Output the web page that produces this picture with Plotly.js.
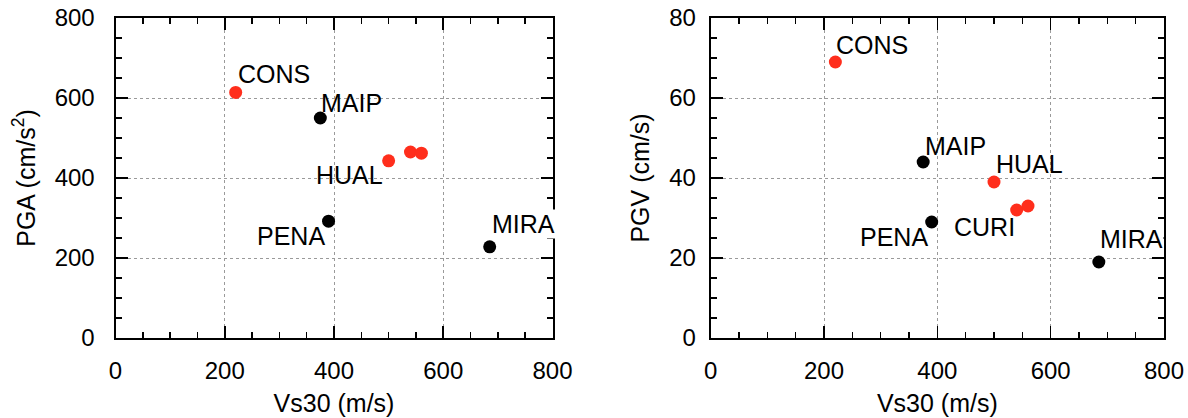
<!DOCTYPE html>
<html>
<head>
<meta charset="utf-8">
<script src="https://cdn.plot.ly/plotly-3.0.1.min.js"></script>
<style>html,body{margin:0;padding:0;background:#fff;}#chart{width:1188px;height:418px;}</style>
</head>
<body>
<div id="chart"></div>
<script>
// Stations
const redStations = ["CONS", "HUAL", "CURI", "CURI2"];
const redVs30 = [220, 500, 540, 560];
const redPGA = [614, 443, 465, 462];
const redPGV = [69, 39, 32, 33];

const blackStations = ["MAIP", "PENA", "MIRA"];
const blackVs30 = [375, 390, 685];
const blackPGA = [550, 292, 228];
const blackPGV = [44, 29, 19];

const xTicks = [0, 200, 400, 600, 800];
const pgaTicks = [0, 200, 400, 600, 800];
const pgvTicks = [0, 20, 40, 60, 80];

const RED = "#ff2e1c";
const FONT = "Liberation Sans, Arial, sans-serif";

const markerRed = {color: RED, size: 13};
const markerBlack = {color: "#000", size: 13};

const traces = [
  {x: redVs30, y: redPGA, xaxis: "x", yaxis: "y", mode: "markers", type: "scatter", marker: markerRed, hoverinfo: "skip"},
  {x: blackVs30, y: blackPGA, xaxis: "x", yaxis: "y", mode: "markers", type: "scatter", marker: markerBlack, hoverinfo: "skip"},
  {x: redVs30, y: redPGV, xaxis: "x2", yaxis: "y2", mode: "markers", type: "scatter", marker: markerRed, hoverinfo: "skip"},
  {x: blackVs30, y: blackPGV, xaxis: "x2", yaxis: "y2", mode: "markers", type: "scatter", marker: markerBlack, hoverinfo: "skip"}
];

function axisCommon(ticks, minorStep, range) {
  return {
    range: range,
    tickmode: "array",
    tickvals: ticks,
    ticktext: ticks.map(String),
    ticks: "inside",
    ticklen: 12,
    tickwidth: 1.6,
    tickcolor: "#000",
    showline: true,
    linewidth: 2,
    linecolor: "#000",
    mirror: "ticks",
    zeroline: false,
    showgrid: true,
    gridcolor: "#9a9a9a",
    gridwidth: 1,
    griddash: "dot",
    tickfont: {family: FONT, size: 24, color: "#000"},
    minor: {dtick: minorStep, tick0: 0, ticks: "inside", ticklen: 6, tickwidth: 1.6, tickcolor: "#000", showgrid: false},
    fixedrange: true
  };
}

// Label placement per station: [anchorX, anchorY, xshift, yshift]
const lab = {
  left: {
    CONS: ["left", "bottom", 1, 3],
    MAIP: ["left", "bottom", 0, 0],
    HUAL: ["right", "top", -5, 1],
    PENA: ["right", "top", -3, 0],
    MIRA: ["left", "bottom", 1, 8]
  },
  right: {
    CONS: ["left", "bottom", 0, 2],
    MAIP: ["left", "bottom", 1, 1],
    HUAL: ["left", "bottom", 1, 3],
    CURI: ["right", "top", -1, -2],
    PENA: ["right", "top", -3, 0],
    MIRA: ["left", "bottom", 0, 8]
  }
};

const annotations = [];
function addLabels(names, xs, ys, xref, yref, side) {
  names.forEach((n, i) => {
    const p = lab[side][n];
    if (!p) return;
    annotations.push({
      x: xs[i], y: ys[i], xref: xref, yref: yref, text: n, showarrow: false,
      xanchor: p[0], yanchor: p[1], xshift: p[2], yshift: p[3],
      font: {family: FONT, size: 25, color: "#000"},
      bgcolor: n === "MIRA" ? "#fff" : "rgba(0,0,0,0)", borderpad: 0
    });
  });
}
addLabels(redStations, redVs30, redPGA, "x", "y", "left");
addLabels(blackStations, blackVs30, blackPGA, "x", "y", "left");
addLabels(redStations, redVs30, redPGV, "x2", "y2", "right");
addLabels(blackStations, blackVs30, blackPGV, "x2", "y2", "right");

const layout = {
  width: 1188, height: 418,
  margin: {l: 0, r: 0, t: 18, b: 80},
  paper_bgcolor: "#fff", plot_bgcolor: "#fff",
  showlegend: false,
  font: {family: FONT, size: 24, color: "#000"},
  xaxis: Object.assign(axisCommon(xTicks, 50, [0, 800]), {domain: [115.5/1188, 552.5/1188], anchor: "y",
    title: {text: "Vs30 (m/s)", font: {family: FONT, size: 25}, standoff: 12}, ticklabelstandoff: 10}),
  yaxis: Object.assign(axisCommon(pgaTicks, 50, [0, 800]), {domain: [0, 1], anchor: "x",
    title: {text: "PGA (cm/s<sup>2</sup>)", font: {family: FONT, size: 25}, standoff: 12}, ticklabelstandoff: 14}),
  xaxis2: Object.assign(axisCommon(xTicks, 50, [0, 800]), {domain: [710.7/1188, 1164/1188], anchor: "y2",
    title: {text: "Vs30 (m/s)", font: {family: FONT, size: 25}, standoff: 12}, ticklabelstandoff: 10}),
  yaxis2: Object.assign(axisCommon(pgvTicks, 5, [0, 80]), {domain: [0, 1], anchor: "x2",
    title: {text: "PGV (cm/s)", font: {family: FONT, size: 25}, standoff: 12}, ticklabelstandoff: 8}),
  annotations: annotations
};

Plotly.newPlot("chart", traces, layout, {staticPlot: true, displayModeBar: false});
</script>
</body>
</html>
